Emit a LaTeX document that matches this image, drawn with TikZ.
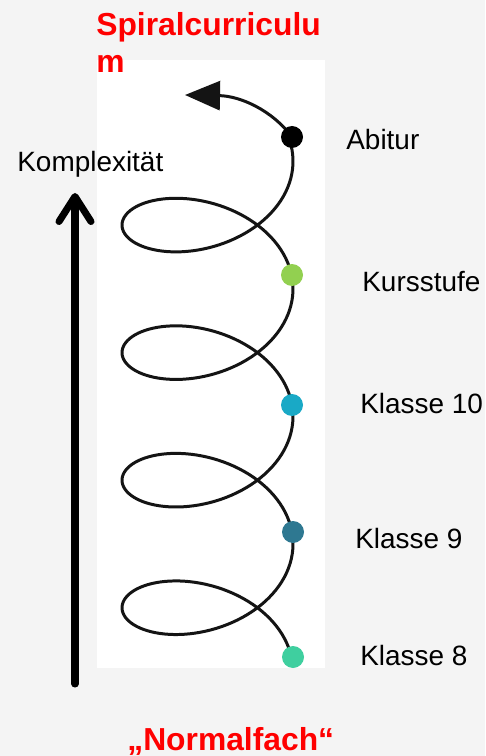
\documentclass[tikz,border=0pt]{standalone}
\usepackage{fontspec}
\setmainfont{Liberation Sans}
\usepackage{xcolor}
\usepackage{tikz}
\usetikzlibrary{arrows.meta}

\definecolor{bggray}{HTML}{F4F4F4}
\definecolor{kursgreen}{HTML}{92D050}
\definecolor{tealblue}{HTML}{19A9C6}
\definecolor{darkteal}{HTML}{2E7891}
\definecolor{mintgreen}{HTML}{3FCF9F}

\begin{document}
\begin{tikzpicture}[x=0.02cm, y=-0.02cm,
    spiral/.style={line width=1.7pt, black!92, line cap=round},
    station/.style={circle, fill=#1, inner sep=0pt, minimum size=0.44cm},
    stationlabel/.style={anchor=base west, inner sep=0pt, font=\fontsize{15.9}{19}\selectfont},
    redtitle/.style={inner sep=0pt, text=red, font=\fontsize{18.1}{21}\selectfont\bfseries}]
    % Parameters of the spiral (1 unit = 1 px)
    \def\cx{207.5}   % centre of the turns
    \def\rx{85.5}    % horizontal radius
    \def\ry{54.9}    % vertical radius
    \def\rise{20.3}  % rise per radian
    \def\yzero{671.5}

    % Background and white panel
    \useasboundingbox (0,0) rectangle (485,756);
    \fill[bggray] (0,0) rectangle (485,756);
    \fill[white] (97,60) rectangle (325,668);

    % Stations on the spiral
    \coordinate (abitur) at (292,137);
    \coordinate (kurs) at (292,275);
    \coordinate (kzehn) at (292,405);
    \coordinate (kneun) at (293,532);
    \coordinate (kacht) at (293,657);
    \coordinate (spiralend) at (185,95);

    % Draw spiral
    \draw[spiral] plot[domain=0.19:25.48, samples=400]
        ({\cx+\rx*cos(\x r)}, {\yzero-\ry*sin(\x r)-\rise*\x});
    \draw[spiral, -{Triangle[length=0.7cm, width=0.58cm]}]
        (abitur) .. controls (272,110) and (240,96) .. (spiralend);

    % Draw stations
    \node[station=black] (abiturdot) at (abitur) {};
    \node[station=kursgreen] (kursdot) at (kurs) {};
    \node[station=tealblue] (kzehndot) at (kzehn) {};
    \node[station=darkteal] (kneundot) at (kneun) {};
    \node[station=mintgreen] (kachtdot) at (kacht) {};

    % Labels of the stations
    \node[stationlabel] (abiturtext) at (346,150) {Abitur};
    \node[stationlabel] (kurstext) at (362,292) {Kursstufe};
    \node[stationlabel] (kzehntext) at (360,413) {Klasse 10};
    \node[stationlabel] (kneuntext) at (355,548) {Klasse 9};
    \node[stationlabel] (kachttext) at (360,665) {Klasse 8};

    % Complexity axis
    \coordinate (kbottom) at (75,684);
    \coordinate (ktop) at (75,193);
    \draw[line width=4pt, line cap=round, -{Straight Barb[length=0.5cm, width=0.64cm, round]}]
        (kbottom) -- (ktop);
    \node[stationlabel] (komplex) at (17,172) {Komplexität};

    % Titles
    \node[redtitle, anchor=north west, align=left] (title) at (96,12) {Spiralcurriculu\\m};
    \node[redtitle, anchor=base west] (normal) at (127,750) {„Normalfach“};
\end{tikzpicture}
\end{document}
